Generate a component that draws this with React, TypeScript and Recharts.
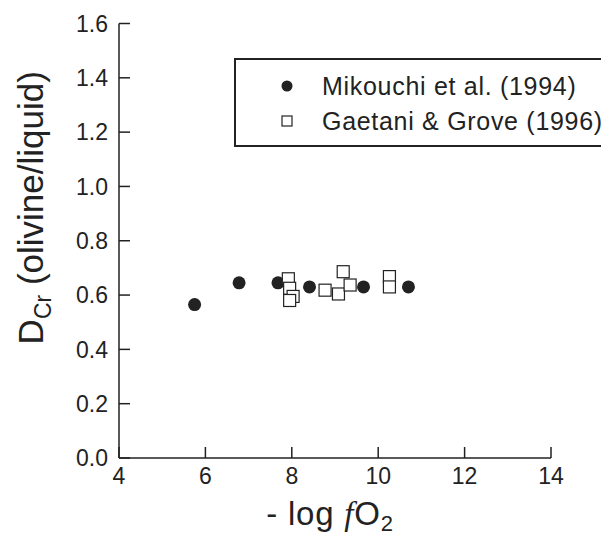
import React from 'react';
import { ScatterChart, Scatter, XAxis, YAxis, Legend, Label } from 'recharts';

// -log fO2 vs D_Cr (olivine/liquid)
const mikouchiX = [5.75, 6.78, 7.68, 8.41, 9.66, 10.7];
const mikouchiY = [0.565, 0.645, 0.645, 0.63, 0.63, 0.63];

const gaetaniX = [7.92, 7.95, 8.03, 7.95, 8.77, 9.08, 9.19, 9.35, 10.26, 10.26];
const gaetaniY = [0.66, 0.625, 0.595, 0.58, 0.618, 0.604, 0.686, 0.637, 0.668, 0.63];

const xTicks = [4, 6, 8, 10, 12, 14];
const yTicks = [0, 0.2, 0.4, 0.6, 0.8, 1.0, 1.2, 1.4, 1.6];

const seriesNames = ['Mikouchi et al. (1994)', 'Gaetani & Grove (1996)'];

const mikouchi = mikouchiX.map((x, i) => ({ x, y: mikouchiY[i] }));
const gaetani = gaetaniX.map((x, i) => ({ x, y: gaetaniY[i] }));

const INK = '#222';
const FONT = '"Liberation Sans", Arial, Helvetica, sans-serif';
const TICK_LEN = 11;

const YTick = (props: any) => {
  const { x, y, payload } = props;
  return (
    <g>
      <line x1={x + 11} x2={x + 11 + TICK_LEN} y1={y} y2={y} stroke={INK} strokeWidth={1.5} />
      <text x={x} y={y} dy="0.36em" textAnchor="end" fontSize={23} fill={INK} fontFamily={FONT}>
        {Number(payload.value).toFixed(1)}
      </text>
    </g>
  );
};

const XTick = (props: any) => {
  const { x, y, payload } = props;
  return (
    <g>
      <line x1={x} x2={x} y1={y - 10} y2={y - 10 - TICK_LEN} stroke={INK} strokeWidth={1.5} />
      <text x={x} y={y} dy="0.71em" textAnchor="middle" fontSize={23} fill={INK} fontFamily={FONT}>
        {payload.value}
      </text>
    </g>
  );
};

const XTitle = (props: any) => {
  const { x, y, width } = props.viewBox;
  return (
    <text x={x + width / 2 - 5} y={y + 67} textAnchor="middle" fontSize={33} fill={INK} fontFamily={FONT} letterSpacing={0.8}>
      -{' '}log{' '}
      <tspan fontFamily='"Liberation Serif", "Times New Roman", serif' fontStyle="italic">f</tspan>
      O
      <tspan dy={6} fontSize={22}>2</tspan>
    </text>
  );
};

const YTitle = (props: any) => {
  const { y, height } = props.viewBox;
  const cx = 35;
  const cy = y + height / 2 - 33;
  return (
    <text x={cx} y={cy} transform={`rotate(-90 ${cx} ${cy})`} textAnchor="middle" fontSize={35} fill={INK} fontFamily={FONT}>
      D
      <tspan dy={8} fontSize={23}>Cr</tspan>
      <tspan dy={-8}> (olivine/liquid)</tspan>
    </text>
  );
};

const Dot = (props: any) => <circle cx={props.cx} cy={props.cy} r={6.5} fill={INK} />;

const OpenSquare = (props: any) => (
  <rect x={props.cx - 6} y={props.cy - 6} width={12} height={12} fill="#fff" stroke={INK} strokeWidth={1.2} />
);

const LegendBox = () => (
  <div
    style={{
      position: 'relative',
      width: 420,
      height: 85,
      border: `2px solid ${INK}`,
      fontFamily: FONT,
      fontSize: 25,
      color: INK,
      letterSpacing: 0.7,
    }}
  >
    {seriesNames.map((name, i) => (
      <div key={name} style={{ position: 'absolute', left: 40, top: i === 0 ? 10 : 45, height: 32, display: 'flex', alignItems: 'center' }}>
        <svg width={22} height={22} style={{ marginRight: 24 }}>
          {i === 0 ? (
            <circle cx={11} cy={11} r={5.5} fill={INK} />
          ) : (
            <rect x={6} y={6} width={10} height={10} fill="#fff" stroke={INK} strokeWidth={1.2} />
          )}
        </svg>
        <span style={{ whiteSpace: 'nowrap' }}>{name}</span>
      </div>
    ))}
  </div>
);

export default function App() {
  return (
    <div style={{ width: 601, height: 532, overflow: 'hidden', position: 'relative', background: '#fff' }}>
      <ScatterChart width={601} height={532} margin={{ top: 15.5, right: 58, bottom: 0, left: 0 }}>
        <XAxis
          type="number"
          dataKey="x"
          domain={[4, 14]}
          ticks={xTicks}
          interval={0}
          height={82}
          stroke={INK}
          strokeWidth={1.5}
          tickSize={0}
          tickMargin={10}
          tick={<XTick />}
        >
          <Label content={<XTitle />} />
        </XAxis>
        <YAxis
          type="number"
          dataKey="y"
          domain={[0, 1.6]}
          ticks={yTicks}
          interval={0}
          width={111}
          stroke={INK}
          strokeWidth={1.5}
          tickSize={0}
          tickMargin={11}
          tick={<YTick />}
        >
          <Label content={<YTitle />} />
        </YAxis>
        <Legend
          layout="vertical"
          align="center"
          verticalAlign="middle"
          content={<LegendBox />}
          wrapperStyle={{ left: 226, top: 50, width: 420 }}
        />
        <Scatter name={seriesNames[0]} data={mikouchi} shape={<Dot />} isAnimationActive={false} />
        <Scatter name={seriesNames[1]} data={gaetani} shape={<OpenSquare />} isAnimationActive={false} />
      </ScatterChart>
    </div>
  );
}
